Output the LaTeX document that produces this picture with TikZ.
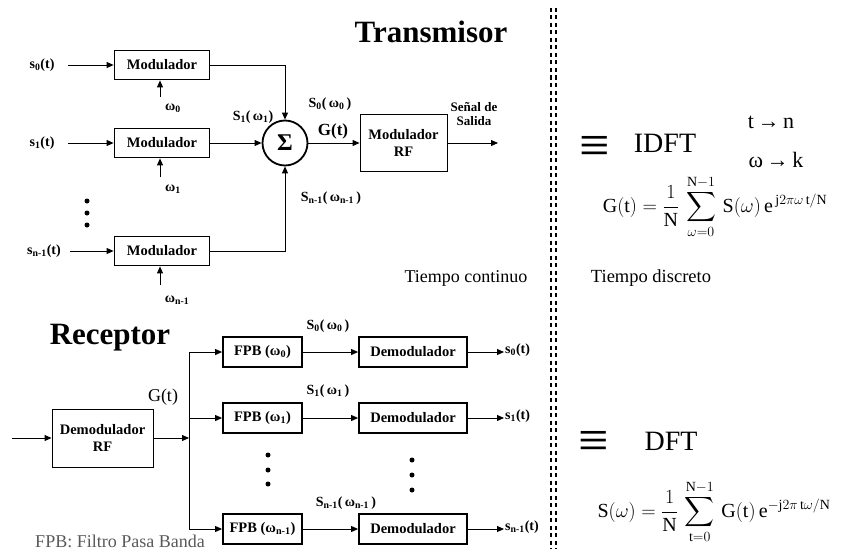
\RequirePackage{fix-cm}
\documentclass[tikz,border=0pt]{standalone}
\usepackage{amsmath}
\usepackage{fontspec}
\setmainfont{Liberation Serif}
\usetikzlibrary{arrows.meta}
\begin{document}
\begin{tikzpicture}[x=1pt,y=-1pt,
  blk/.style={draw,line width=1.8pt,inner sep=0pt,font=\bfseries\fontsize{14.5}{15}\selectfont},
  mod/.style={blk,minimum width=95pt,minimum height=29pt},
  fpb/.style={blk,minimum width=79pt,minimum height=30pt},
  dem/.style={blk,minimum width=108pt,minimum height=30pt},
  rf/.style={draw,line width=0.9pt,inner sep=0pt,align=center,font=\bfseries\fontsize{14.5}{17}\selectfont},
  arr/.style={-{Triangle[length=7pt,width=6pt]},line width=0.9pt},
  ln/.style={line width=0.9pt},
  sig/.style={inner sep=1pt,font=\bfseries\fontsize{14}{15}\selectfont},
  lbl/.style={inner sep=1pt,font=\bfseries\fontsize{14}{15}\selectfont},
  dotn/.style={circle,fill,inner sep=0pt,minimum size=5pt},
  ttl/.style={font=\bfseries\fontsize{31}{34}\selectfont},
  divider/.style={line width=1.3pt,dash pattern=on 4pt off 3.5pt},
  eqv/.style={font=\fontsize{54}{54}\selectfont,inner sep=0pt},
  frm/.style={font=\fontsize{20}{22}\selectfont,inner sep=0pt},
]
\useasboundingbox (0,0) rectangle (843,551);

% ---------------- Transmisor ----------------
\node[ttl] (tx) at (431,32) {Transmisor};

\node[mod] (m0) at (162,65) {Modulador};
\node[mod] (m1) at (162,143) {Modulador};
\node[mod] (m2) at (162,251) {Modulador};

\node[sig] (s0) at (42,65) {s\textsubscript{0}(t)};
\node[sig] (s1) at (42,143) {s\textsubscript{1}(t)};
\node[sig] (s2) at (44,251) {s\textsubscript{n-1}(t)};
\draw[arr,shorten <=12pt] (s0.east) -- (m0.west);
\draw[arr,shorten <=12pt] (s1.east) -- (m1.west);
\draw[arr,shorten <=8pt] (s2.east) -- (m2.west);

\coordinate (w0s) at (160,97);
\coordinate (w1s) at (160,177);
\coordinate (w2s) at (160,285);
\draw[arr] (w0s) -- (w0s |- m0.south);
\draw[arr] (w1s) -- (w1s |- m1.south);
\draw[arr] (w2s) -- (w2s |- m2.south);
\node[lbl] (w0) at (173,108) {ω\textsubscript{0}};
\node[lbl] (w1) at (173,189) {ω\textsubscript{1}};
\node[lbl] (w2) at (177,300) {ω\textsubscript{n-1}};

\node[dotn] (td1) at (87,201) {};
\node[dotn] (td2) at (87,213) {};
\node[dotn] (td3) at (87,225) {};

\node[circle,draw,line width=1.8pt,minimum size=45pt,inner sep=0pt,
      font=\bfseries\fontsize{24}{24}\selectfont] (sum) at (285,143) {Σ};
\draw[arr] (m0.east) -| (sum.north);
\draw[arr] (m1.east) -- (sum.west);
\draw[arr] (m2.east) -| (sum.south);

\node[rf,minimum width=87pt,minimum height=57pt] (mrf) at (403.5,143) {Modulador\\RF};
\draw[arr] (sum.east) -- (mrf.west);
\coordinate (out) at (498,143);
\draw[arr] (mrf.east) -- (out);
\node[lbl,align=center,font=\bfseries\fontsize{13}{14}\selectfont] (senal) at (474,114) {Señal de\\Salida};

\node[lbl] (l1) at (253,117) {S\textsubscript{1}(\,ω\textsubscript{1})};
\node[lbl] (l0) at (330,104) {S\textsubscript{0}(\,ω\textsubscript{0}\,)};
\node[font=\bfseries\fontsize{17}{17}\selectfont] (gtx) at (333,131) {G(t)};
\node[lbl] (ln1) at (331,198) {S\textsubscript{n-1}(\,ω\textsubscript{n-1}\,)};

% ---------------- Divider ----------------
\coordinate (dva) at (551,8);
\coordinate (dvb) at (551,549);
\coordinate (dvc) at (556,8);
\coordinate (dvd) at (556,549);
\draw[divider] (dva) -- (dvb);
\draw[divider] (dvc) -- (dvd);

\node[font=\fontsize{18}{18}\selectfont] (tc) at (466,278) {Tiempo continuo};
\node[font=\fontsize{18.5}{18.5}\selectfont] (td) at (651,278) {Tiempo discreto};

% ---------------- Right side ----------------
\node[eqv] (eq1) at (595,150) {≡};
\node[font=\fontsize{28}{28}\selectfont] (idft) at (665,143) {IDFT};
\node[font=\fontsize{22}{22}\selectfont] (tn) at (771,122) {t\,→\,n};
\node[font=\fontsize{22}{22}\selectfont] (wk) at (776,160) {ω\,→\,k};
\node[frm] (fidft) at (715,207)
  {$\displaystyle \mathrm{G(t)} = \frac{1}{\mathrm{N}}\,\sum_{\omega=0}^{\mathrm{N}-1}\,\mathrm{S}(\omega)\,\mathrm{e}^{\,\mathrm{j}2\pi\omega\,\mathrm{t/N}}$};

\node[eqv] (eq2) at (594,445) {≡};
\node[font=\fontsize{28}{28}\selectfont] (dft) at (671,441) {DFT};
\node[frm] (fdft) at (714,512)
  {$\displaystyle \mathrm{S}(\omega) = \frac{1}{\mathrm{N}}\,\sum_{\mathrm{t}=0}^{\mathrm{N}-1}\,\mathrm{G(t)}\,\mathrm{e}^{-\mathrm{j}2\pi\,\mathrm{t}\omega/\mathrm{N}}$};

% ---------------- Receptor ----------------
\node[ttl] (rx) at (110,338) {Receptor};

\node[rf,minimum width=101pt,minimum height=58pt] (drf) at (102.5,438) {Demodulador\\RF};
\coordinate (rin) at (12,438);
\draw[arr] (rin) -- (drf.west);
\coordinate (bus) at (189,438);
\draw[arr] (drf.east) -- (bus);
\node[font=\fontsize{18}{18}\selectfont] (grx) at (163,397) {G(t)};

\node[fpb] (f0) at (262.5,352) {FPB (ω\textsubscript{0})};
\node[fpb] (f1) at (262.5,418) {FPB (ω\textsubscript{1})};
\node[fpb] (f2) at (262.5,529) {FPB (ω\textsubscript{n-1})};

\coordinate (bt) at (189,352);
\coordinate (bb) at (189,529);
\draw[ln] (bt) -- (bb);
\draw[arr] (bt) -- (f0.west);
\draw[arr] (bus |- f1.west) -- (f1.west);
\draw[arr] (bb) -- (f2.west);

\node[dem] (e0) at (413,352) {Demodulador};
\node[dem] (e1) at (413,418) {Demodulador};
\node[dem] (e2) at (413,529) {Demodulador};
\draw[arr] (f0.east) -- (e0.west);
\draw[arr] (f1.east) -- (e1.west);
\draw[arr] (f2.east) -- (e2.west);

\node[sig,anchor=west] (o0) at (504,350) {s\textsubscript{0}(t)};
\node[sig,anchor=west] (o1) at (504,416) {s\textsubscript{1}(t)};
\node[sig,anchor=west] (o2) at (504,527) {s\textsubscript{n-1}(t)};
\draw[arr] (e0.east) -- (e0.east -| o0.west);
\draw[arr] (e1.east) -- (e1.east -| o1.west);
\draw[arr] (e2.east) -- (e2.east -| o2.west);

\node[lbl] (r0) at (328,326) {S\textsubscript{0}(\,ω\textsubscript{0}\,)};
\node[lbl] (r1) at (328,391) {S\textsubscript{1}(\,ω\textsubscript{1}\,)};
\node[lbl] (r2) at (346,503) {S\textsubscript{n-1}(\,ω\textsubscript{n-1}\,)};

\node[dotn] (fd1) at (268,455) {};
\node[dotn] (fd2) at (268,470) {};
\node[dotn] (fd3) at (268,484) {};
\node[dotn] (ed1) at (412,460) {};
\node[dotn] (ed2) at (412,475) {};
\node[dotn] (ed3) at (412,490) {};

\node[font=\fontsize{18}{18}\selectfont,text=black!65] (leg) at (120,541) {FPB: Filtro Pasa Banda};
\end{tikzpicture}
\end{document}
